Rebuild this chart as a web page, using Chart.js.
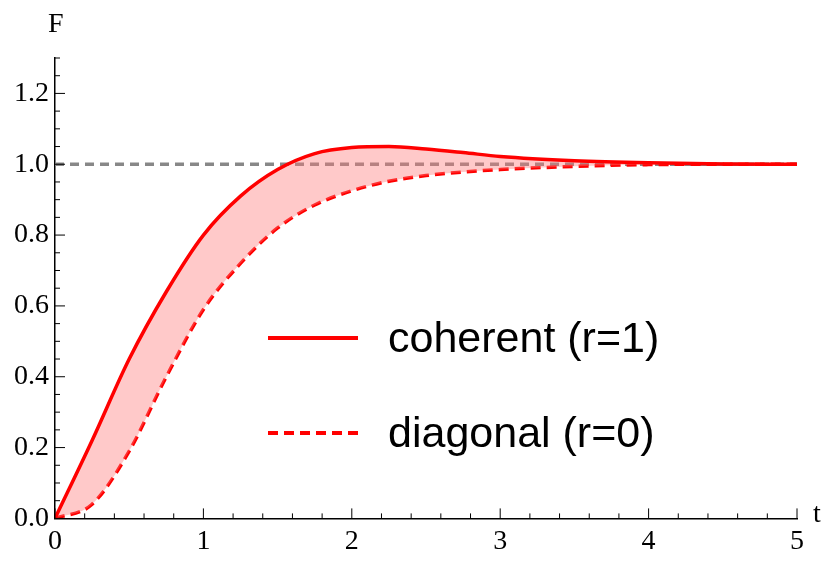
<!DOCTYPE html>
<html><head><meta charset="utf-8">
<script src="https://cdn.jsdelivr.net/npm/chart.js@4"></script>
<style>body{margin:0;background:#fff}#wrap{width:830px;height:572px}</style>
</head><body><div id="wrap"><canvas id="c"></canvas></div>
<script>
const tVals = [0,0.25,0.5,0.75,1,1.25,1.5,1.75,2,2.25,2.5,2.75,3,3.5,4,4.5,5];
const coherent = [0,0.22,0.45,0.64,0.80,0.91,0.985,1.03,1.047,1.05,1.043,1.033,1.022,1.01,1.004,1.001,1.0];
const diagonal = [0,0.04,0.19,0.40,0.59,0.72,0.82,0.885,0.925,0.952,0.968,0.978,0.985,0.994,0.999,1.0,1.0];
const refLine = [1,1];
const refT = [0,5];

const pts = (xs, ys) => xs.map((x, i) => ({x, y: ys[i]}));
const SERIF = '"Liberation Serif", "Times New Roman", Times, "DejaVu Serif", serif';

const decor = {
  id: 'decor',
  afterDraw(chart) {
    const {ctx, scales: {x, y}} = chart;
    ctx.save();
    ctx.fillStyle = '#000';
    ctx.font = '28px ' + SERIF;
    ctx.textAlign = 'left';
    ctx.fillText('F', 48, 32);
    ctx.fillText('t', 813, 522);
    ctx.strokeStyle = '#000'; ctx.lineWidth = 1;
    for (let v = 0; v <= 5.001; v += 0.2) {
      const px = x.getPixelForValue(v);
      const major = Math.abs(v - Math.round(v)) < 1e-6;
      ctx.beginPath(); ctx.moveTo(px, y.bottom); ctx.lineTo(px, y.bottom - (major ? 10 : 5)); ctx.stroke();
    }
    for (let v = 0; v <= 1.3001; v += 0.05) {
      const py = y.getPixelForValue(v);
      const major = Math.abs(v * 5 - Math.round(v * 5)) < 1e-6;
      ctx.beginPath(); ctx.moveTo(x.left, py); ctx.lineTo(x.left + (major ? 10 : 5), py); ctx.stroke();
    }
    ctx.strokeStyle = '#ff0000'; ctx.lineWidth = 4;
    ctx.beginPath(); ctx.moveTo(268, 338); ctx.lineTo(358, 338); ctx.stroke();
    ctx.setLineDash([10, 6]);
    ctx.beginPath(); ctx.moveTo(268, 433); ctx.lineTo(358, 433); ctx.stroke();
    ctx.setLineDash([]);
    ctx.font = '43px "Liberation Sans", Arial, sans-serif';
    ctx.fillStyle = '#000';
    ctx.fillText('coherent (r=1)', 388, 352);
    ctx.fillText('diagonal (r=0)', 388, 447);
    ctx.restore();
  }
};

new Chart(document.getElementById('c'), {
  type: 'line',
  data: {
    datasets: [
      { label: 'coherent (r=1)', data: pts(tVals, coherent), borderColor: '#ff0000', borderWidth: 3.5,
        backgroundColor: 'rgba(255,120,120,0.4)', fill: '+1', pointRadius: 0, cubicInterpolationMode: 'monotone' },
      { label: 'diagonal (r=0)', data: pts(tVals, diagonal), borderColor: '#ff0000', borderWidth: 3.5,
        borderDash: [10, 6], fill: false, pointRadius: 0, cubicInterpolationMode: 'monotone' },
      { label: 'ref', data: pts(refT, refLine), borderColor: '#888', borderWidth: 3.5,
        borderDash: [9, 6], fill: false, pointRadius: 0 }
    ]
  },
  options: {
    responsive: true, maintainAspectRatio: false, animation: false,
    layout: { padding: { top: 58, right: 33, left: 8, bottom: 8 } },
    plugins: { legend: { display: false }, tooltip: { enabled: false } },
    scales: {
      x: { type: 'linear', min: 0, max: 5,
        grid: { display: false, drawTicks: false },
        border: { color: '#000', width: 1.5 },
        ticks: { stepSize: 1, color: '#000', padding: 6, font: { family: SERIF, size: 28 } } },
      y: { min: 0, max: 1.3,
        afterBuildTicks: s => { s.ticks = [0,0.2,0.4,0.6,0.8,1.0,1.2].map(v => ({value: v})); },
        grid: { display: false, drawTicks: false },
        border: { color: '#000', width: 1.5 },
        ticks: { color: '#000', padding: 6, callback: v => v.toFixed(1), font: { family: SERIF, size: 28 } } }
    }
  },
  plugins: [decor]
});
</script></body></html>
